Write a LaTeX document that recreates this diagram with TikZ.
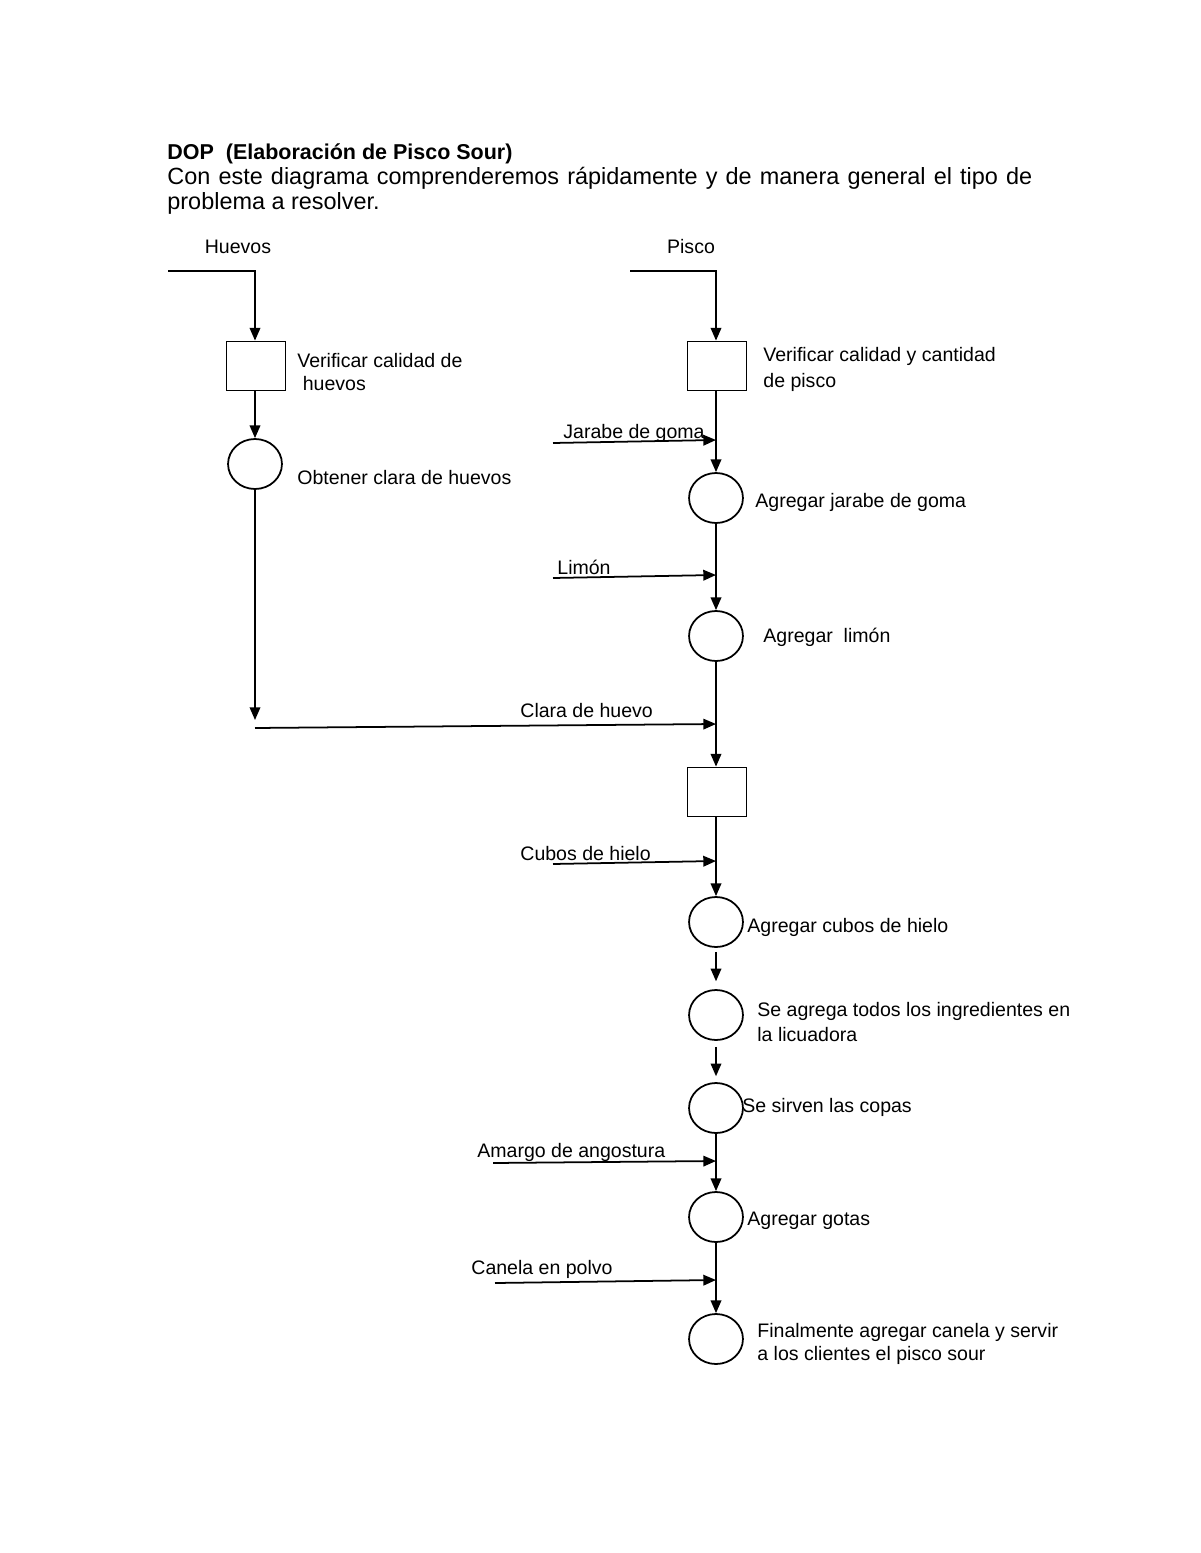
\documentclass[tikz,border=0pt]{standalone}
\usepackage{fontspec}
\setmainfont{Liberation Sans}
\usetikzlibrary{positioning,shapes.geometric,arrows.meta}
\tikzset{
    opbox/.style={rectangle, draw, line width=0.9pt, minimum width=30.2pt, minimum height=25.1pt, inner sep=0pt},
    opcirc/.style={ellipse, draw, line width=0.9pt, minimum width=27.6pt, minimum height=25.6pt, inner sep=0pt},
    flow/.style={line width=0.9pt, -{Triangle[length=6.5pt,width=5.4pt]}},
    lbl/.style={anchor=base west, inner sep=0pt, font=\fontsize{10}{12}\selectfont},
    lbltwo/.style={anchor=west, align=left, inner sep=0pt, font=\fontsize{10}{11.8}\selectfont}
}

\begin{document}
\begin{tikzpicture}[x=0.5119pt, y=-0.5119pt]
    \useasboundingbox (0,0) rectangle (1200,1553);

    % heading
    \node[anchor=base west, inner sep=0pt, font=\fontsize{11}{13}\selectfont\bfseries] (title) at (167,160) {DOP\ \ (Elaboración de Pisco Sour)};
    \node[anchor=base west, inner sep=0pt, text width=442.8pt, align=justify, font=\fontsize{12}{12.8}\selectfont] (intro) at (167,185)
        {\hyphenpenalty=10000 Con este diagrama comprenderemos rápidamente y de manera general el tipo de problema a resolver.};

    % operations
    \node[opbox] (chkh) at (256,366) {};
    \node[opcirc] (claraop) at (255,464) {};
    \node[opbox] (chkp) at (717,366) {};
    \node[opcirc] (jarabeop) at (716,498) {};
    \node[opcirc] (limonop) at (716,636) {};
    \node[opbox] (mixchk) at (717,792) {};
    \node[opcirc] (hieloop) at (716,922) {};
    \node[opcirc] (licuaop) at (716,1015) {};
    \node[opcirc] (copasop) at (716,1108) {};
    \node[opcirc] (gotasop) at (716,1217) {};
    \node[opcirc] (canelaop) at (716,1339) {};

    % texts
    \node[lbl, anchor=base] (huevoslbl) at (238,254) {Huevos};
    \node[lbl, anchor=base] (piscolbl) at (691,254) {Pisco};
    \node[lbltwo] (chkhlbl) at (297,372) {Verificar calidad de\\\ huevos};
    \node[lbl] (claralbl) at (297,484) {Obtener clara de huevos};
    \node[lbltwo] (chkplbl) at (763,369) {Verificar calidad y cantidad\\[1.5pt]de pisco};
    \node[lbl] (jarabelbl) at (563,439) {Jarabe de goma};
    \node[lbl] (jarabeoplbl) at (755,507) {Agregar jarabe de goma};
    \node[lbl] (limonlbl) at (557,574) {Limón};
    \node[lbl] (limonoplbl) at (763,642) {Agregar\ \ limón};
    \node[lbl] (clarainlbl) at (520,717) {Clara de huevo};
    \node[lbl] (hielolbl) at (520,860) {Cubos de hielo};
    \node[lbl] (hieloplbl) at (747,932) {Agregar cubos de hielo};
    \node[lbltwo] (licualbl) at (757,1022) {Se agrega todos los ingredientes en\\[1.5pt]la licuadora};
    \node[lbl] (copaslbl) at (742,1112) {Se sirven las copas};
    \node[lbl] (amargolbl) at (477,1157) {Amargo de angostura};
    \node[lbl] (gotaslbl) at (747,1225) {Agregar gotas};
    \node[lbl] (canelalbl) at (471,1274) {Canela en polvo};
    \node[lbltwo] (finlbl) at (757,1344) {Finalmente agregar canela y servir\\a los clientes el pisco sour};

    % free ends
    \coordinate (huevosin) at (168,271);
    \coordinate (piscoin) at (630,271);
    \coordinate (jarabein) at (553,443);
    \coordinate (jarabeend) at (716,440);
    \coordinate (limonin) at (553,578);
    \coordinate (limonend) at (716,575);
    \coordinate (claradown) at (255,720);
    \coordinate (clarastart) at (255,728);
    \coordinate (claraend) at (716,724);
    \coordinate (hieloin) at (553,864);
    \coordinate (hieloend) at (716,861);
    \coordinate (amargoin) at (493,1163);
    \coordinate (amargoend) at (716,1161);
    \coordinate (canelain) at (495,1283);
    \coordinate (canelaend) at (716,1280);

    % left line
    \draw[flow] (huevosin) -- (huevosin -| claraop) -- (claraop |- chkh.north);
    \draw[flow] (claraop |- chkh.south) -- (claraop);
    \draw[flow] (claraop) -- (claradown);
    \draw[flow] (clarastart) -- (claraend);

    % right line
    \draw[flow] (piscoin) -- (piscoin -| jarabeop) -- (jarabeop |- chkp.north);
    \draw[flow] (jarabeop |- chkp.south) -- (jarabeop);
    \draw[flow] (jarabein) -- (jarabeend);
    \draw[flow] (jarabeop) -- (limonop);
    \draw[flow] (limonin) -- (limonend);
    \draw[flow] (limonop) -- (limonop |- mixchk.north);
    \draw[flow] (hieloop |- mixchk.south) -- (hieloop);
    \draw[flow] (hieloin) -- (hieloend);
    \draw[flow, shorten <=2pt, shorten >=4pt] (hieloop) -- (licuaop);
    \draw[flow, shorten <=3pt, shorten >=3pt] (licuaop) -- (copasop);
    \draw[flow] (copasop) -- (gotasop);
    \draw[flow] (amargoin) -- (amargoend);
    \draw[flow] (gotasop) -- (canelaop);
    \draw[flow] (canelain) -- (canelaend);
\end{tikzpicture}
\end{document}
